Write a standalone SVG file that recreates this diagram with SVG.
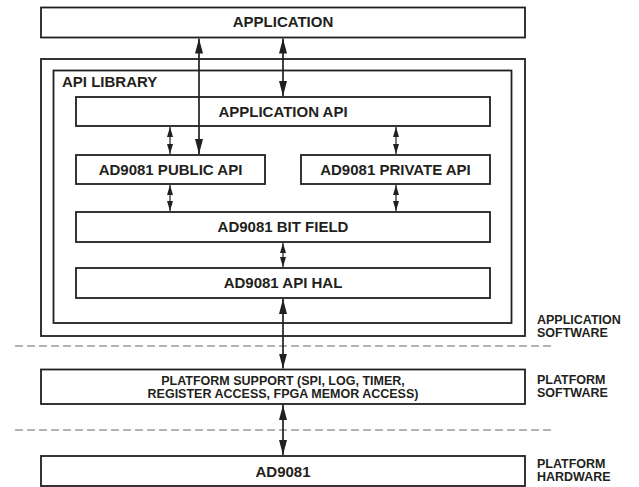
<svg xmlns="http://www.w3.org/2000/svg" width="639" height="487" viewBox="0 0 639 487">
  <defs>
    <style>
      .box{fill:#fff;stroke:#231f20;stroke-width:1.8}
      .frame{fill:none;stroke:#231f20;stroke-width:1.8}
      .t{font-family:"Liberation Sans",Arial,sans-serif;font-weight:bold;fill:#231f20}
      .lg{font-size:15px;text-anchor:middle}
      .md{font-size:12.5px;text-anchor:middle}
      .side{font-size:12.5px}
      .big{stroke:#231f20;stroke-width:1.7;fill:none;marker-start:url(#ab);marker-end:url(#ab)}
      .sm{stroke:#231f20;stroke-width:1.2;fill:none;marker-start:url(#as);marker-end:url(#as)}
      .dash{stroke:#9a9a9a;stroke-width:1.5;stroke-dasharray:8 4;fill:none}
    </style>
    <marker id="ab" viewBox="0 0 15 8" refX="15" refY="4" markerWidth="15" markerHeight="8" markerUnits="userSpaceOnUse" orient="auto-start-reverse">
      <path d="M0,0 L15,4 L0,8 z" fill="#231f20"/>
    </marker>
    <marker id="as" viewBox="0 0 10 6" refX="10" refY="3" markerWidth="10" markerHeight="6" markerUnits="userSpaceOnUse" orient="auto-start-reverse">
      <path d="M0,0 L10,3 L0,6 z" fill="#231f20"/>
    </marker>
  </defs>

  <g id="application">
    <rect class="box" x="41" y="7.5" width="484" height="30"/>
    <text class="t lg" x="283" y="27">APPLICATION</text>
  </g>

  <g id="application-software-frame">
    <rect class="frame" x="41" y="59" width="484" height="277"/>
  </g>

  <g id="api-library">
    <rect class="frame" x="53.5" y="70.5" width="458" height="252.5"/>
    <text class="t" style="font-size:15px" x="62" y="87">API LIBRARY</text>
  </g>

  <g id="application-api">
    <rect class="box" x="76" y="97" width="414" height="29"/>
    <text class="t lg" x="283" y="117">APPLICATION API</text>
  </g>

  <g id="public-api">
    <rect class="box" x="76" y="155" width="189" height="29"/>
    <text class="t lg" x="170.5" y="175">AD9081 PUBLIC API</text>
  </g>

  <g id="private-api">
    <rect class="box" x="301" y="155" width="189" height="29"/>
    <text class="t lg" x="395.5" y="175">AD9081 PRIVATE API</text>
  </g>

  <g id="bit-field">
    <rect class="box" x="76" y="212" width="414" height="30"/>
    <text class="t lg" x="283" y="232">AD9081 BIT FIELD</text>
  </g>

  <g id="api-hal">
    <rect class="box" x="76" y="268" width="414" height="30"/>
    <text class="t lg" x="283" y="288">AD9081 API HAL</text>
  </g>

  <g id="platform-support">
    <rect class="box" x="41" y="369.5" width="484" height="34.5"/>
    <text class="t md" x="283" y="385">PLATFORM SUPPORT (SPI, LOG, TIMER,</text>
    <text class="t md" x="283" y="397.5">REGISTER ACCESS, FPGA MEMOR ACCESS)</text>
  </g>

  <g id="ad9081">
    <rect class="box" x="41" y="456" width="484" height="30"/>
    <text class="t lg" x="283" y="477">AD9081</text>
  </g>

  <g id="layer-labels">
    <text class="t side" x="537" y="324">APPLICATION</text>
    <text class="t side" x="537" y="337">SOFTWARE</text>
    <text class="t side" x="537" y="384">PLATFORM</text>
    <text class="t side" x="537" y="397">SOFTWARE</text>
    <text class="t side" x="537" y="468">PLATFORM</text>
    <text class="t side" x="537" y="481">HARDWARE</text>
  </g>

  <g id="separators">
    <line class="dash" x1="15" y1="346" x2="552" y2="346"/>
    <line class="dash" x1="15" y1="430" x2="552" y2="430"/>
  </g>

  <g id="connectors">
    <line class="big" x1="199" y1="38.5" x2="199" y2="154"/>
    <line class="big" x1="283" y1="38.5" x2="283" y2="96"/>
    <line class="sm" x1="170" y1="127" x2="170" y2="154"/>
    <line class="sm" x1="396" y1="127" x2="396" y2="154"/>
    <line class="sm" x1="170" y1="185" x2="170" y2="211"/>
    <line class="sm" x1="396" y1="185" x2="396" y2="211"/>
    <line class="sm" x1="283" y1="243" x2="283" y2="267"/>
    <line class="big" x1="283" y1="299" x2="283" y2="368.5"/>
    <line class="big" x1="283" y1="405" x2="283" y2="455"/>
  </g>
</svg>
